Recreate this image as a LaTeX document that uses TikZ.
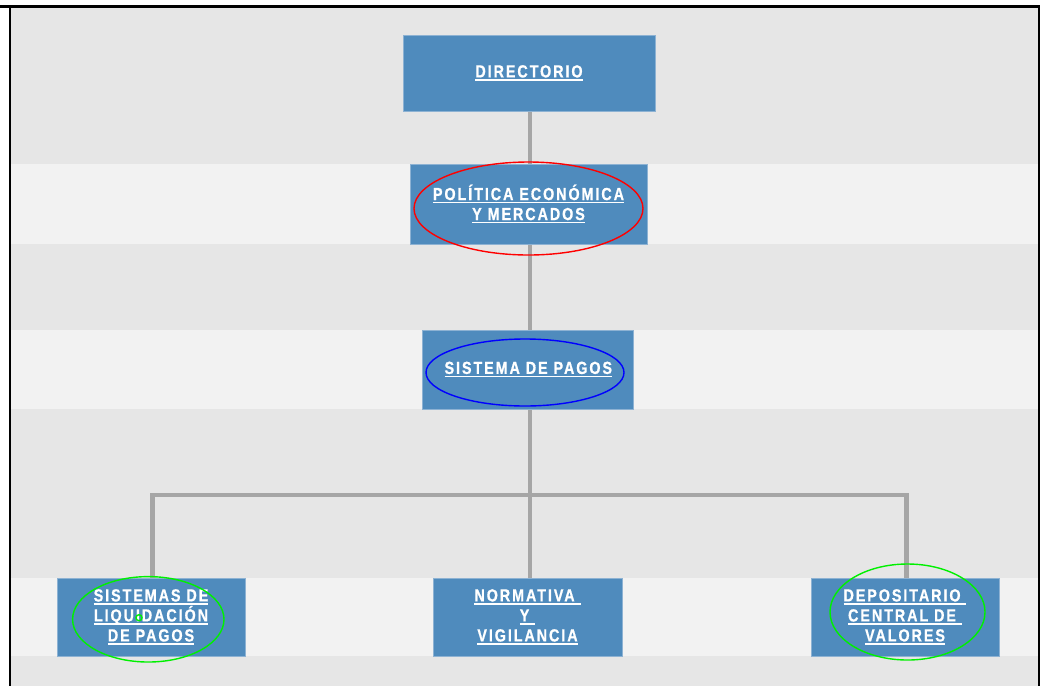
\documentclass[tikz,border=0pt]{standalone}
\usepackage{fontspec}
\newfontfamily\boxfont[LetterSpace=11,FakeStretch=0.82,FakeBold=0.8]{Liberation Sans}
% underline drawn as a rule of fixed depth, so descenders do not move it
\newcommand\ulin[1]{\setbox0=\hbox{#1}\rlap{\rule[-3.4pt]{\wd0}{1.4pt}}\box0}
\definecolor{bandgrey}{HTML}{E6E6E6}
\definecolor{bandlight}{HTML}{F2F2F2}
\definecolor{boxblue}{HTML}{4F8BBD}
\definecolor{boxedge}{HTML}{8DB2D3}
\definecolor{linkgrey}{HTML}{A6A6A6}
\definecolor{markgreen}{HTML}{00F000}
\tikzset{
  orgbox/.style={rectangle, fill=boxblue, draw=boxedge, line width=0.8pt,
    text=white, align=center, inner sep=0pt,
    font=\boxfont\bfseries\fontsize{17.5}{20}\selectfont},
  link/.style={draw=linkgrey, line width=4.5pt},
  ring/.style={line width=1.4pt}
}
\begin{document}
\begin{tikzpicture}[x=1pt, y=-1pt]
\useasboundingbox (0,0) rectangle (1040,686);
% page background and frame
\fill[white] (0,0) rectangle (1040,686);
\fill[bandgrey] (11,8) rectangle (1038,686);
\fill[bandlight] (11,164) rectangle (1038,244);
\fill[bandlight] (11,330) rectangle (1038,409);
\fill[bandlight] (11,578) rectangle (1038,656);
\fill[black] (0,5) rectangle (1040,8);
\fill[black] (9,5) rectangle (11,686);
\fill[black] (1038,5) rectangle (1039.5,686);

% connectors (drawn first, boxes cover their ends)
\coordinate (bus) at (530,495);
\coordinate (topa) at (530,111);
\coordinate (topb) at (530,164);
\coordinate (mida) at (530,244);
\coordinate (midb) at (530,330);
\coordinate (lowa) at (530,409);
\coordinate (lowb) at (530,578);
\coordinate (lefb) at (152.5,578);
\coordinate (rigb) at (906.5,578);
\draw[link] (topa) -- (topb);
\draw[link] (mida) -- (midb);
\draw[link] (lowa) -- (lowb);
\draw[link] (lefb) |- (bus) -| (rigb);

% boxes
\node[orgbox, minimum width=252pt, minimum height=76pt] (dir) at (529,73)
  {\ulin{DIRECTORIO}};
\node[orgbox, minimum width=237pt, minimum height=80pt] (pol) at (528.5,204)
  {\ulin{POLÍTICA ECONÓMICA}\\\ulin{Y MERCADOS}};
\node[orgbox, minimum width=211pt, minimum height=79pt] (sis) at (528.3,369.5)
  {\ulin{SISTEMA DE PAGOS}};
\node[orgbox, minimum width=188pt, minimum height=78pt] (liq) at (151,617)
  {\ulin{SISTEMAS DE}\\\ulin{LIQUIDACIÓN}\\\ulin{DE PAGOS}};
\node[orgbox, minimum width=189pt, minimum height=78pt] (nor) at (527.5,617)
  {\ulin{NORMATIVA\ }\\\ulin{Y\ }\\\ulin{VIGILANCIA}};
\node[orgbox, minimum width=188pt, minimum height=78pt] (dep) at (905,617)
  {\ulin{DEPOSITARIO\ }\\\ulin{CENTRAL DE\ }\\\ulin{VALORES}};

% hand-drawn highlight rings
\draw[ring, red] (528.5,208.5) ellipse [x radius=114.5pt, y radius=46.5pt];
\draw[ring, blue] (525,372.5) ellipse [x radius=99pt, y radius=33.5pt];
\draw[ring, markgreen] (148.3,619.3) ellipse [x radius=75.7pt, y radius=42.7pt];
\draw[ring, markgreen] (139,617.7) circle [radius=3pt];
\draw[ring, markgreen] (907.5,612) ellipse [x radius=77.5pt, y radius=48pt];
\end{tikzpicture}
\end{document}
